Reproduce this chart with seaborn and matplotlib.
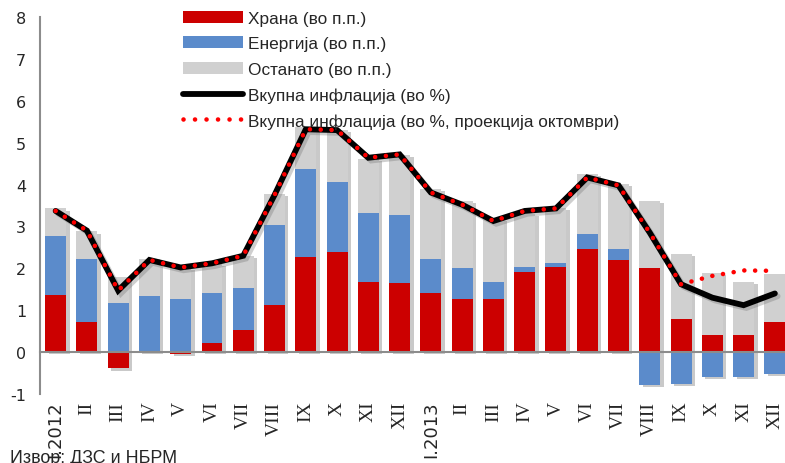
import numpy as np
import pandas as pd
import matplotlib
matplotlib.use("Agg")
import matplotlib.pyplot as plt
import matplotlib.patheffects as pe
from matplotlib.patches import Patch
from matplotlib.lines import Line2D
import seaborn as sns

# ==========================================
# DATA
# ==========================================

months = ["I.2012", "II", "III", "IV", "V", "VI", "VII", "VIII", "IX", "X", "XI", "XII",
          "I.2013", "II", "III", "IV", "V", "VI", "VII", "VIII", "IX", "X", "XI", "XII"]

food = [1.36, 0.72, -0.39, 0.02, -0.05, 0.21, 0.53, 1.12, 2.27, 2.38, 1.68, 1.64,
        1.40, 1.26, 1.26, 1.91, 2.04, 2.47, 2.19, 2.01, 0.78, 0.42, 0.42, 0.73]

energy = [1.40, 1.50, 1.17, 1.32, 1.26, 1.19, 1.01, 1.92, 2.10, 1.67, 1.64, 1.63,
          0.82, 0.74, 0.42, 0.13, 0.09, 0.35, 0.26, -0.79, -0.75, -0.59, -0.60, -0.53]

other = [0.67, 0.66, 0.63, 0.89, 0.76, 0.70, 0.76, 0.73, 1.00, 1.25, 1.30, 1.43,
         1.67, 1.61, 1.49, 1.26, 1.32, 1.43, 1.56, 1.60, 1.56, 1.48, 1.25, 1.13]

total = [3.37, 2.90, 1.47, 2.20, 2.02, 2.12, 2.30, 3.75, 5.32, 5.30, 4.64, 4.72,
         3.81, 3.52, 3.13, 3.37, 3.43, 4.17, 3.98, 2.85, 1.62, 1.30, 1.12, 1.40]

projection = [3.37, 2.90, 1.47, 2.20, 2.02, 2.12, 2.30, 3.75, 5.32, 5.30, 4.64, 4.72,
              3.81, 3.52, 3.13, 3.37, 3.43, 4.17, 3.98, 2.85, 1.62, 1.82, 1.95, 1.94]

labels = ["Храна (во п.п.)", "Енергија (во п.п.)", "Останато (во п.п.)",
          "Вкупна инфлација (во %)", "Вкупна инфлација (во %, проекција октомври)"]

c_food = "#CC0000"
c_energy = "#5B8BCB"
c_other = "#D0D0D0"

# ==========================================
# STACKING (positives up, negatives down)
# ==========================================

df = pd.DataFrame({"pos": np.arange(len(months)), "food": food,
                   "energy": energy, "other": other})
fp = df["food"].clip(lower=0)
ep = df["energy"].clip(lower=0)
fn = df["food"].clip(upper=0)
en = df["energy"].clip(upper=0)

df["top_other"] = fp + ep + df["other"]
df["top_energy"] = fp + ep
df["top_food"] = fp
df["neg_all"] = fn + en
df["neg_food"] = fn

# ==========================================
# PLOT
# ==========================================

sns.set_style("white")
plt.rcParams["font.family"] = ["Liberation Sans", "DejaVu Sans"]
plt.rcParams["axes.unicode_minus"] = False

fig = plt.figure(figsize=(7.85, 4.64), dpi=100)
ax = fig.add_axes([40 / 785, 69 / 464, 750.5 / 785, 377 / 464])

bar_shadow = [pe.SimplePatchShadow(offset=(2.5, -1.5), shadow_rgbFace="#888888", alpha=0.45),
              pe.Normal()]

layers = [("top_other", c_other, True), ("top_energy", c_energy, False),
          ("top_food", c_food, False), ("neg_all", c_energy, True),
          ("neg_food", c_food, False)]

for col, color, shadow in layers:
    sns.barplot(data=df, x="pos", y=col, color=color, width=0.67,
                saturation=1, linewidth=0, ax=ax)
    if shadow:
        for p in ax.patches[-len(df):]:
            p.set_path_effects(bar_shadow)

line_shadow = [pe.SimpleLineShadow(offset=(2, -2), shadow_color="#777777", alpha=0.35),
               pe.Normal()]

sns.lineplot(x=df["pos"], y=total, color="black", linewidth=4.2,
             solid_joinstyle="miter", ax=ax, path_effects=line_shadow)
sns.lineplot(x=df["pos"], y=projection, color="#FF0000", linewidth=3.3,
             linestyle=(0, (0.01, 2.35)), dash_capstyle="round", ax=ax)

# ==========================================
# AXES
# ==========================================

ax.set_xlim(-0.5, len(months) - 0.5)
ax.set_ylim(-1, 8)
ax.set_xlabel("")
ax.set_ylabel("")

for s in ["top", "right"]:
    ax.spines[s].set_visible(False)
ax.spines["left"].set_color("#8C8C8C")
ax.spines["left"].set_linewidth(1.5)
ax.spines["bottom"].set_position(("data", 0))
ax.spines["bottom"].set_color("#8C8C8C")
ax.spines["bottom"].set_linewidth(1.5)

ax.set_yticks(range(-1, 9))
ax.tick_params(axis="y", direction="out", length=4, width=1.2, color="#8C8C8C",
               labelsize=12, pad=6)
for t in ax.get_yticklabels():
    t.set_family(["DejaVu Sans"])
    t.set_fontsize(11.5)

ax.set_xticks(np.arange(len(months)))
ax.set_xticklabels(months, rotation=90)
ax.set_xticks(np.arange(len(months) + 1) - 0.5, minor=True)
ax.tick_params(axis="x", which="major", length=0, pad=35, labelsize=14)
ax.tick_params(axis="x", which="minor", direction="out", length=4, width=1.2,
               color="#8C8C8C")
for t in ax.get_xticklabels():
    if "." in t.get_text():
        t.set_family(["DejaVu Sans"])
        t.set_fontsize(13)
    else:
        t.set_family(["Liberation Serif"])

# ==========================================
# LEGEND
# ==========================================

handles = [Patch(facecolor=c_food, edgecolor="none"),
           Patch(facecolor=c_energy, edgecolor="none"),
           Patch(facecolor=c_other, edgecolor="none"),
           Line2D([], [], color="black", linewidth=4.2),
           Line2D([], [], color="#FF0000", linewidth=3.3,
                  linestyle=(0, (0.01, 2.5)), dash_capstyle="round")]

ax.legend(handles, labels, loc="upper left", bbox_to_anchor=(183 / 785, 1 - 12 / 464),
          bbox_transform=fig.transFigure, frameon=False, fontsize=12.4,
          handlelength=3.5, handletextpad=0.3, labelspacing=0.6,
          borderpad=0, borderaxespad=0)

fig.text(10 / 785, 1 - 450 / 464, "Извор: ДЗС и НБРМ", fontsize=12.9, va="top")

fig.savefig("out.png", dpi=100)
